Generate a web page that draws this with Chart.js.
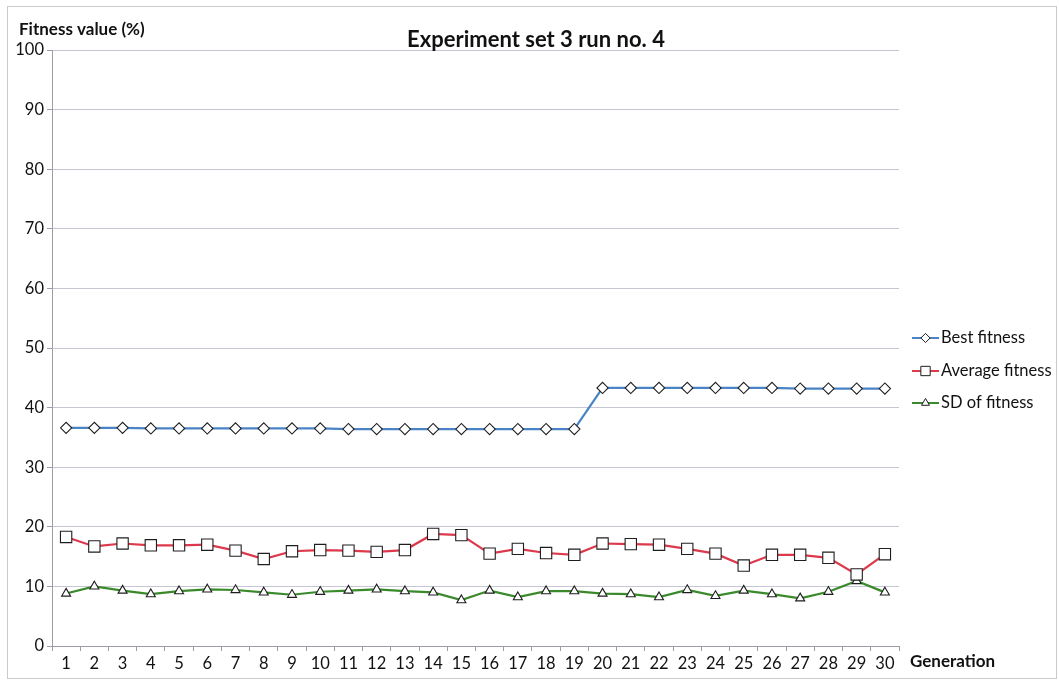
<!DOCTYPE html>
<html>
<head>
<meta charset="utf-8">
<script src="https://cdn.jsdelivr.net/npm/chart.js@4/dist/chart.umd.min.js"></script>
<style>
  html, body { margin: 0; padding: 0; background: #ffffff; }
  #wrap { width: 1059px; height: 687px; position: relative; }
</style>
</head>
<body>
<div id="wrap"><canvas id="c" width="1059" height="687"></canvas></div>
<script>
// Generations 1..30
const generations = ['1','2','3','4','5','6','7','8','9','10','11','12','13','14','15',
                     '16','17','18','19','20','21','22','23','24','25','26','27','28','29','30'];

// Fitness values (%) per generation
const bestFitness = [36.6, 36.6, 36.6, 36.5, 36.5, 36.5, 36.5, 36.5, 36.5, 36.5,
                     36.4, 36.4, 36.4, 36.4, 36.4, 36.4, 36.4, 36.4, 36.4, 43.3,
                     43.3, 43.3, 43.3, 43.3, 43.3, 43.3, 43.2, 43.2, 43.2, 43.2];
const averageFitness = [18.3, 16.7, 17.2, 16.9, 16.9, 17.0, 16.0, 14.6, 15.9, 16.1,
                        16.0, 15.8, 16.1, 18.8, 18.6, 15.5, 16.3, 15.6, 15.3, 17.2,
                        17.1, 17.0, 16.3, 15.5, 13.5, 15.3, 15.3, 14.8, 12.0, 15.4];
const sdFitness = [8.8, 10.0, 9.3, 8.7, 9.2, 9.5, 9.4, 9.0, 8.6, 9.1,
                   9.3, 9.5, 9.2, 9.0, 7.7, 9.3, 8.2, 9.2, 9.2, 8.8,
                   8.7, 8.2, 9.4, 8.4, 9.3, 8.7, 8.0, 9.1, 10.9, 9.0];

const yTicks = [0, 10, 20, 30, 40, 50, 60, 70, 80, 90, 100];

const FONT = 'Lato, "Open Sans", sans-serif';
const GRID = '#c6c6d4';
const AXIS = '#9c9cab';

function series(label, data, color, style, radius) {
  return {
    label, data,
    borderColor: color,
    backgroundColor: color,
    borderWidth: 2.2,
    tension: 0,
    pointStyle: style,
    pointRadius: radius,
    pointHoverRadius: radius,
    pointBackgroundColor: '#ffffff',
    pointBorderColor: '#1e1e1e',
    pointBorderWidth: 1.1
  };
}

// Frame, titles and legend drawn on the canvas around the plot
const decorations = {
  id: 'decorations',
  beforeDraw(chart) {
    const ctx = chart.ctx;
    ctx.save();
    ctx.fillStyle = '#ffffff';
    ctx.fillRect(0, 0, chart.width, chart.height);
    ctx.strokeStyle = '#c9c9cf';
    ctx.lineWidth = 1;
    ctx.strokeRect(7.5, 6.5, 1049, 672);
    ctx.restore();
  },
  afterDraw(chart) {
    const ctx = chart.ctx;
    ctx.save();
    ctx.fillStyle = '#111111';
    ctx.textBaseline = 'middle';

    ctx.font = 'bold 22px ' + FONT;
    ctx.textAlign = 'center';
    ctx.fillText('Experiment set 3 run no. 4', 536, 40);

    ctx.font = 'bold 17px ' + FONT;
    ctx.textAlign = 'left';
    ctx.fillText('Fitness value (%)', 19, 30);
    ctx.fillText('Generation', 910, 662);

    // legend: line sample with marker, then label
    const rows = [338, 371, 403];
    const markerR = [4.6, 6.6, 4.6];
    ctx.font = '16.5px ' + FONT;
    chart.data.datasets.forEach((ds, i) => {
      const y = rows[i];
      ctx.strokeStyle = ds.borderColor;
      ctx.lineWidth = 2;
      ctx.beginPath();
      ctx.moveTo(912, y);
      ctx.lineTo(939, y);
      ctx.stroke();
      ctx.fillStyle = '#ffffff';
      ctx.strokeStyle = '#1e1e1e';
      ctx.lineWidth = 1;
      Chart.helpers.drawPoint(ctx, {
        pointStyle: ds.pointStyle, radius: markerR[i], rotation: 0, borderWidth: 1
      }, 925.5, y);
      ctx.fillStyle = '#111111';
      ctx.fillText(ds.label, 941, y);
    });
    ctx.restore();
  }
};

new Chart(document.getElementById('c'), {
  type: 'line',
  data: {
    labels: generations,
    datasets: [
      series('Best fitness', bestFitness, '#4a84c6', 'rectRot', 5.6),
      series('Average fitness', averageFitness, '#dc3a4c', 'rect', 8.0),
      series('SD of fitness', sdFitness, '#3a8a2c', 'triangle', 5.2)
    ]
  },
  options: {
    responsive: false,
    animation: false,
    layout: { padding: { top: 50, right: 160, bottom: 0, left: 0 } },
    plugins: {
      legend: { display: false },
      title: { display: false },
      tooltip: { enabled: false }
    },
    scales: {
      x: {
        offset: true,
        grid: {
          offset: true,
          drawOnChartArea: false,
          drawTicks: true,
          tickLength: 5,
          tickColor: AXIS
        },
        border: { display: true, color: AXIS, width: 1 },
        ticks: {
          autoSkip: false,
          maxRotation: 0,
          padding: 3,
          color: '#111111',
          font: { family: FONT, size: 16.5 }
        },
        afterFit(scale) { scale.height = 41; }
      },
      y: {
        min: 0,
        max: 100,
        afterBuildTicks(scale) { scale.ticks = yTicks.map(v => ({ value: v })); },
        grid: {
          color: GRID,
          lineWidth: 1,
          tickLength: 5,
          tickColor: AXIS
        },
        border: { display: true, color: AXIS, width: 1 },
        ticks: {
          padding: 3,
          color: '#111111',
          font: { family: FONT, size: 16.5 }
        },
        afterFit(scale) { scale.width = 52; }
      }
    }
  },
  plugins: [decorations]
});
</script>
</body>
</html>
